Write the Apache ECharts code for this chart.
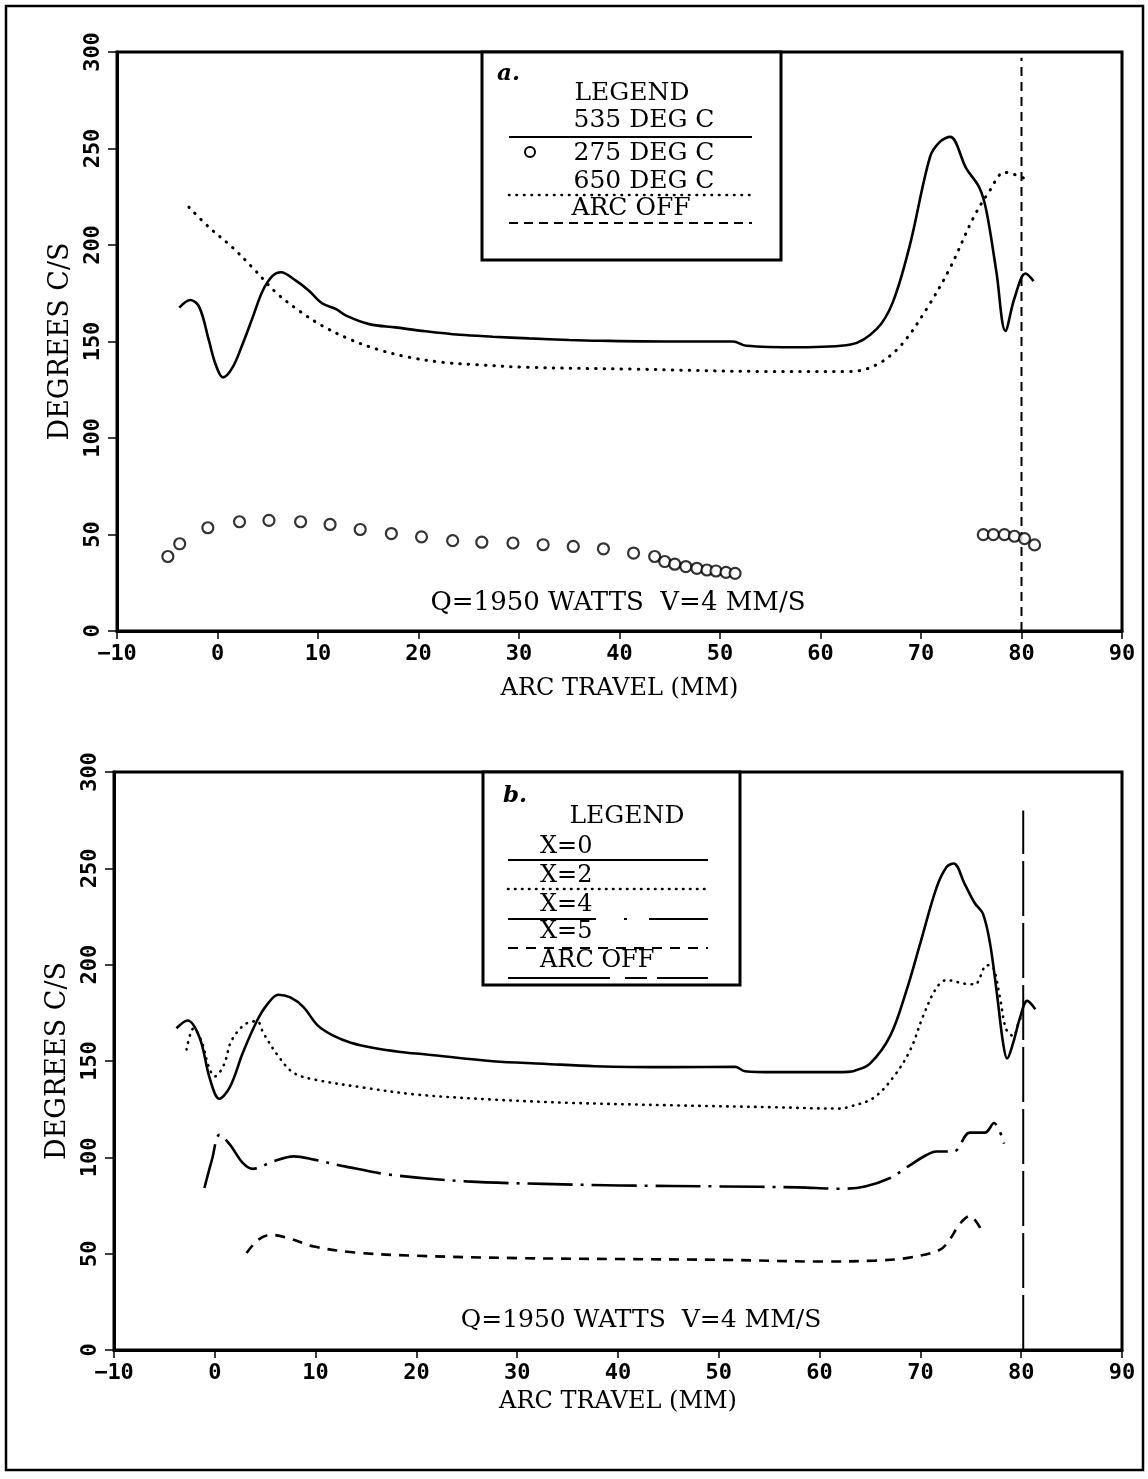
<!DOCTYPE html>
<html>
<head>
<meta charset="utf-8">
<script src="https://cdn.jsdelivr.net/npm/echarts@6/dist/echarts.min.js"></script>
<style>
  html, body { margin: 0; padding: 0; background: #fff; }
  #c { width: 1148px; height: 1479px; }
</style>
</head>
<body>
<div id="c"></div>
<script>
// ---- Panel a: cooling rate vs arc travel for three isotherms ----
const travel535 = [-3.8, -2.7, -1.8, -0.85, -0.2, 0.55, 1.5, 2.5, 3.5, 4.5, 5.5, 6.3, 7.8, 9.1, 10.4, 11.8, 12.8, 15.1, 17.7, 20.7, 24.1, 27.4, 31, 35, 38, 44.6, 51.3, 52.6, 57.9, 63, 65.6, 67.2, 68.9, 70.9, 71.9, 72.9, 74.5, 75.8, 76.5, 77.5, 78.4, 79.3, 80.4, 81.2];
const rate535   = [167.6, 171.5, 167.7, 150.4, 138.3, 131.4, 136.6, 148.7, 162.5, 176.3, 184.1, 185.9, 181.5, 176.3, 169.8, 166.8, 163.4, 159, 157.3, 155.3, 153.5, 152.5, 151.6, 150.8, 150.4, 150, 150, 147.8, 147, 148.4, 156.5, 170.4, 200.1, 245.7, 253.6, 256, 239.7, 229.8, 217.9, 186.2, 155.5, 172.4, 185.2, 181.3];

const travel650 = [-2.84, -0.85, 1.47, 3.47, 5.8, 8.1, 10.4, 13.1, 15.8, 19.1, 22.4, 25.7, 31, 41.3, 54.6, 63, 65.6, 68, 70.5, 72.9, 75.2, 76.8, 78.3, 79.2, 80.2];
const rate650   = [219.6, 209.2, 198.8, 188.4, 175.5, 166, 158.2, 151.3, 146.1, 141.8, 139.2, 138, 136.6, 135.7, 134.5, 134.5, 138, 148, 166.4, 188.2, 214, 227.8, 237.7, 236.7, 234.7];

const travel275 = [-4.94, -3.76, -0.96, 2.19, 5.12, 8.27, 11.2, 14.2, 17.3, 20.3, 23.4, 26.3, 29.4, 32.4, 35.4, 38.4, 41.4, 43.5, 44.5, 45.5, 46.6, 47.7, 48.7, 49.6, 50.6, 51.5, 76.2, 77.2, 78.3, 79.3, 80.3, 81.3];
const rate275   = [38.6, 45.2, 53.5, 56.6, 57.3, 56.6, 55.2, 52.6, 50.5, 48.8, 46.8, 46, 45.6, 44.7, 43.8, 42.6, 40.4, 38.6, 36, 34.6, 33.4, 32.5, 31.6, 31.1, 30.4, 29.9, 49.9, 49.9, 49.9, 49.1, 47.9, 44.6];

// ---- Panel b: cooling rate at several transverse offsets X ----
const travelX0 = [-3.8, -2.7, -1.5, -0.5, 0.45, 1.5, 2.8, 4.2, 5.15, 6.3, 7.5, 8.8, 10.2, 11.8, 13.5, 15.8, 18.4, 21, 27.6, 32.6, 37.7, 45.3, 51.6, 52.6, 55.4, 61.9, 63.5, 65, 67, 68.6, 70, 71.6, 72.6, 73.3, 74.4, 75.4, 76.2, 76.9, 77.6, 78.2, 78.6, 79.2, 79.9, 80.6, 81.4];
const rateX0   = [167, 171, 162, 141, 130.4, 136.5, 154.5, 171, 179, 184.4, 183, 178, 168.5, 163, 159.5, 156.7, 154.7, 153.4, 149.9, 148.6, 147.3, 146.8, 147, 144.7, 144.2, 144.2, 145, 148.6, 163, 186.3, 211.3, 240, 250.7, 252.5, 241.8, 231.9, 226.5, 211.3, 184.5, 159.4, 151.3, 159.4, 172.8, 181.2, 176.9];

const travelX2 = [-2.8, -2.1, -1.3, -0.6, 0, 0.9, 1.7, 3.3, 4.2, 4.8, 6.3, 7.8, 9.85, 14.9, 20, 27.6, 35.2, 45.3, 55.4, 62, 63, 65.3, 67.3, 69, 70.3, 71.6, 72.6, 74.3, 75.4, 76.6, 77.2, 77.9, 78.5, 79.2, 79.9, 80.4];
const rateX2   = [156, 167, 160, 147, 142, 148, 161, 170, 170.6, 164.7, 152.5, 143.9, 140.4, 136.1, 132.6, 130, 128.3, 127, 126, 125.3, 126.3, 130.7, 141.5, 155.8, 173.7, 188, 192, 190.2, 189.8, 199.7, 198.8, 182.7, 166.6, 163, 171.9, 173.7];

const travelX4 = [-1.03, -0.28, 0.49, 1.5, 2.77, 3.78, 5.8, 7.83, 9.85, 12.9, 17.4, 25, 32.6, 40.2, 50.3, 57.9, 62, 64.5, 67, 68.7, 70.6, 71.6, 73.3, 74.9, 76.4, 77.3, 78.3];
const rateX4   = [84.1, 98.8, 111.8, 106.6, 97.1, 94, 97.9, 100.5, 98.8, 95.3, 91, 87.5, 86.2, 85.4, 84.9, 84.4, 83.7, 84.9, 89.3, 95, 101.2, 103, 103, 112.8, 112.8, 117.8, 107.1];

const travelX5 = [3.15, 4.3, 5.54, 7.3, 9.85, 13.9, 20, 30.1, 40.2, 50.3, 60.5, 65.5, 68.6, 71.9, 72.9, 73.9, 74.9, 76];
const rateX5   = [50.3, 57.2, 59.8, 58.1, 53.7, 50.6, 48.9, 47.7, 47.2, 46.8, 45.9, 46.4, 47.7, 51.9, 57.3, 65.4, 69.5, 62.7];

// position where the arc is switched off, and its drawn extent
const arcOffTravelA = 80;
const arcOffTravelB = 80.2;
const arcOffSpanA = [0, 297];
const arcOffSpanB = [0, 280];

// axis ticks
const xMin = -10, xMax = 90, xStep = 10;
const yMin = 0, yMax = 300, yStep = 50;

const pairs = (xs, ys) => xs.map((x, i) => [x, ys[i]]);

const SERIF = 'DejaVu Serif';
const TICKFONT = 'DejaVu Sans Mono';

function xAxisCfg(gridIndex, nameGap) {
  return {
    type: 'value', gridIndex, min: xMin, max: xMax, interval: xStep,
    name: 'ARC TRAVEL (MM)', nameLocation: 'middle', nameGap,
    nameTextStyle: { fontFamily: SERIF, fontSize: 24, color: '#000' },
    axisLine: { show: true, onZero: false, lineStyle: { color: '#000', width: 3 } },
    axisTick: { show: true, inside: false, length: 8, lineStyle: { color: '#000', width: 1.5 } },
    axisLabel: {
      margin: 12, color: '#000', fontFamily: TICKFONT, fontWeight: 'bold', fontSize: 22,
      formatter: v => (v < 0 ? '\u2212' + Math.abs(v) : String(v))
    },
    splitLine: { show: false }
  };
}

function yAxisCfg(gridIndex) {
  return {
    type: 'value', gridIndex, min: yMin, max: yMax, interval: yStep,
    name: 'DEGREES C/S', nameLocation: 'middle', nameGap: 42,
    nameTextStyle: { fontFamily: SERIF, fontSize: 27, color: '#000' },
    axisLine: { show: true, onZero: false, lineStyle: { color: '#000', width: 3 } },
    axisTick: { show: true, inside: false, length: 9, lineStyle: { color: '#000', width: 1.5 } },
    axisLabel: {
      rotate: 90, margin: 13, color: '#000', fontFamily: TICKFONT, fontWeight: 'bold', fontSize: 22
    },
    splitLine: { show: false }
  };
}

function curve(name, xs, ys, gi, lineStyle) {
  return {
    name, type: 'line', xAxisIndex: gi, yAxisIndex: gi,
    data: pairs(xs, ys), smooth: 0.35, showSymbol: false, symbol: 'none',
    lineStyle: Object.assign({ color: '#000', width: 2.6 }, lineStyle),
    z: 3, silent: true
  };
}

const dotted = { type: [0.5, 8], cap: 'round', width: 3 };
const dottedFine = { type: [0.5, 6.5], cap: 'round', width: 2.6 };

const series = [
  curve('535 DEG C', travel535, rate535, 0, { type: 'solid' }),
  curve('650 DEG C', travel650, rate650, 0, dotted),
  {
    name: '275 DEG C', type: 'scatter', xAxisIndex: 0, yAxisIndex: 0,
    data: pairs(travel275, rate275), symbol: 'circle', symbolSize: 11,
    itemStyle: { color: '#fff', borderColor: '#000', borderWidth: 2.2 }, z: 4, silent: true
  },
  {
    name: 'ARC OFF', type: 'line', xAxisIndex: 0, yAxisIndex: 0,
    data: [[arcOffTravelA, arcOffSpanA[0]], [arcOffTravelA, arcOffSpanA[1]]],
    symbol: 'none', lineStyle: { color: '#000', width: 2, type: [9, 6] }, silent: true
  },
  curve('X=0', travelX0, rateX0, 1, { type: 'solid' }),
  curve('X=2', travelX2, rateX2, 1, dottedFine),
  curve('X=4', travelX4, rateX4, 1, { type: [45, 8, 3, 8] }),
  curve('X=5', travelX5, rateX5, 1, { type: [10, 8] }),
  {
    name: 'ARC OFF b', type: 'line', xAxisIndex: 1, yAxisIndex: 1,
    data: [[arcOffTravelB, arcOffSpanB[0]], [arcOffTravelB, arcOffSpanB[1]]],
    symbol: 'none', lineStyle: { color: '#000', width: 2, type: [55, 7] }, silent: true
  }
];

// ---- legend boxes and annotations ----
function txt(text, x, y, opts) {
  return {
    type: 'text', z: 20,
    style: Object.assign({
      text, x, y, fill: '#000', font: '25px "' + SERIF + '"',
      textAlign: 'center', textVerticalAlign: 'middle'
    }, opts || {})
  };
}
function seg(x1, y1, x2, y2, dash, width) {
  return {
    type: 'line', z: 20,
    shape: { x1, y1, x2, y2 },
    style: { stroke: '#000', lineWidth: width || 2, lineDash: dash || null, lineCap: dash && dash[0] < 1 ? 'round' : 'butt' }
  };
}

const graphics = [
  // page frame
  { type: 'rect', z: 1, shape: { x: 6, y: 6, width: 1137, height: 1464 },
    style: { fill: null, stroke: '#000', lineWidth: 2.5 } },

  // legend a
  { type: 'rect', z: 19, shape: { x: 482, y: 52, width: 299, height: 208 },
    style: { fill: '#fff', stroke: '#000', lineWidth: 3 } },
  txt('a.', 497, 74, { font: 'italic bold 23px "' + SERIF + '"', textAlign: 'left' }),
  txt('LEGEND', 632, 93),
  txt('535 DEG C', 644, 120),
  seg(509, 137, 752, 137),
  { type: 'circle', z: 20, shape: { cx: 530, cy: 152, r: 5 },
    style: { fill: '#fff', stroke: '#000', lineWidth: 2 } },
  txt('275 DEG C', 644, 153),
  txt('650 DEG C', 644, 181),
  seg(509, 195, 752, 195, [0.5, 7], 2.6),
  txt('ARC OFF', 631, 208),
  seg(509, 223, 752, 223, [9, 6]),

  // legend b
  { type: 'rect', z: 19, shape: { x: 483, y: 772, width: 257, height: 213 },
    style: { fill: '#fff', stroke: '#000', lineWidth: 3 } },
  txt('b.', 503, 796, { font: 'italic bold 23px "' + SERIF + '"', textAlign: 'left' }),
  txt('LEGEND', 627, 816),
  txt('X=0', 540, 847, { textAlign: 'left', font: '24px "' + SERIF + '"' }),
  seg(508, 860, 708, 860),
  txt('X=2', 540, 876, { textAlign: 'left', font: '24px "' + SERIF + '"' }),
  seg(508, 889, 708, 889, [0.5, 6.5], 2.6),
  txt('X=4', 540, 905, { textAlign: 'left', font: '24px "' + SERIF + '"' }),
  seg(508, 919, 708, 919, [88, 28, 3, 22, 60]),
  txt('X=5', 540, 932, { textAlign: 'left', font: '24px "' + SERIF + '"' }),
  seg(508, 948, 708, 948, [10, 8]),
  txt('ARC OFF', 540, 961, { textAlign: 'left', font: '24px "' + SERIF + '"' }),
  seg(508, 978, 708, 978, [102, 15, 22, 10, 60]),

  // run conditions
  txt('Q=1950 WATTS  V=4 MM/S', 618, 603, { font: '26px "' + SERIF + '"' }),
  txt('Q=1950 WATTS  V=4 MM/S', 641, 1320, { font: '25px "' + SERIF + '"' })
];

const chart = echarts.init(document.getElementById('c'), null, { renderer: 'canvas', width: 1148, height: 1479 });
chart.setOption({
  animation: false,
  backgroundColor: '#fff',
  grid: [
    { left: 117, top: 52, width: 1005, height: 579, show: true, borderColor: '#000', borderWidth: 3, containLabel: false },
    { left: 114, top: 772, width: 1008, height: 578, show: true, borderColor: '#000', borderWidth: 3, containLabel: false }
  ],
  xAxis: [xAxisCfg(0, 46), xAxisCfg(1, 40)],
  yAxis: [yAxisCfg(0), yAxisCfg(1)],
  series,
  graphic: graphics
});
</script>
</body>
</html>
